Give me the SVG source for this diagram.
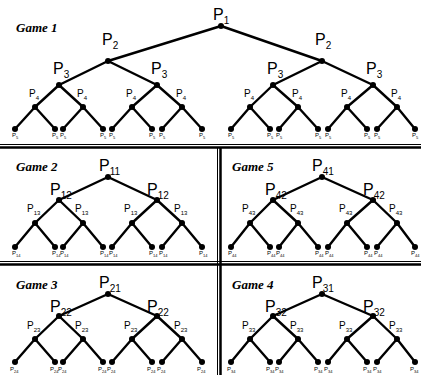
<svg xmlns="http://www.w3.org/2000/svg" width="421" height="375" viewBox="0 0 421 375">
<style>
.bg{fill:#fff}
.e{stroke:#000;stroke-width:2.4;fill:none;stroke-linecap:round;stroke-linejoin:round}
.div{stroke:#000;fill:none}
circle{fill:#000}
text{font-family:"Liberation Sans",Arial,sans-serif;fill:#000}
.L{font-size:16px}
.L .s{font-size:10px}
.M{font-size:10px}
.M .s{font-size:6px}
.S{font-size:6px}
.S .s{font-size:4px}
.g{font-family:"Liberation Serif","Times New Roman",serif;font-style:italic;font-weight:bold;font-size:13px}
</style>
<rect class="bg" x="0" y="0" width="421" height="375"/>
<g id="dividers">
<line class="div" x1="0" y1="144.5" x2="421" y2="144.5" stroke-width="1"/>
<line class="div" x1="0" y1="147.5" x2="421" y2="147.5" stroke-width="2.5"/>
<line class="div" x1="0" y1="261.5" x2="421" y2="261.5" stroke-width="1"/>
<line class="div" x1="0" y1="264.5" x2="421" y2="264.5" stroke-width="2.5"/>
<line class="div" x1="217.5" y1="148" x2="217.5" y2="375" stroke-width="1"/>
<line class="div" x1="220.5" y1="148" x2="220.5" y2="375" stroke-width="2.5"/>
</g>
<g id="titles">
<text class="g" x="16" y="32">Game 1</text>
<text class="g" x="16" y="171">Game 2</text>
<text class="g" x="232" y="171">Game 5</text>
<text class="g" x="16" y="289">Game 3</text>
<text class="g" x="232" y="289">Game 4</text>
</g>
<g id="connectors">
<path class="e" d="M108,61L221,26L322,61M59,85L108,61L157,85M273,85L322,61L373,85M35,107L59,85L83,107M132,107L157,85L182,107M250,107L273,85L298,107M347,107L373,85L397,107M15,129L35,107L55,129M63,129L83,107L103,129M112,129L132,107L152,129M162,129L182,107L202,129M231,129L250,107L270,129M279,129L298,107L318,129M328,129L347,107L367,129M377,129L397,107L415,129"/>
<path class="e" d="M59,200L108,177L157,200M35,223L59,200L83,223M132,223L157,200L182,223M15,247L35,223L55,247M63,247L83,223L103,247M112,247L132,223L152,247M162,247L182,223L202,247"/>
<path class="e" d="M273,200L322,177L373,200M250,223L273,200L298,223M347,223L373,200L397,223M231,247L250,223L270,247M279,247L298,223L318,247M328,247L347,223L367,247M377,247L397,223L415,247"/>
<path class="e" d="M59,316L108,294L157,316M35,339L59,316L83,339M132,339L157,316L182,339M15,362L35,339L55,362M63,362L83,339L103,362M112,362L132,339L152,362M162,362L182,339L202,362"/>
<path class="e" d="M273,316L322,294L373,316M250,339L273,316L298,339M347,339L373,316L397,339M231,362L250,339L270,362M279,362L298,339L318,362M328,362L347,339L367,362M377,362L397,339L415,362"/>
</g>
<!-- Game 1 -->
<g id="g1-root"><circle cx="221" cy="26" r="3"/><text class="L" x="213" y="20">P<tspan class="s" dy="4">1</tspan></text></g>
<g id="g1-a"><circle cx="108" cy="61" r="3"/><text class="L" x="102" y="45">P<tspan class="s" dy="4">2</tspan></text></g>
<g id="g1-b"><circle cx="322" cy="61" r="3"/><text class="L" x="315" y="45">P<tspan class="s" dy="4">2</tspan></text></g>
<g id="g1-aa"><circle cx="59" cy="85" r="3"/><text class="L" x="53" y="74">P<tspan class="s" dy="4">3</tspan></text></g>
<g id="g1-ab"><circle cx="157" cy="85" r="3"/><text class="L" x="151" y="74">P<tspan class="s" dy="4">3</tspan></text></g>
<g id="g1-ba"><circle cx="273" cy="85" r="3"/><text class="L" x="267" y="74">P<tspan class="s" dy="4">3</tspan></text></g>
<g id="g1-bb"><circle cx="373" cy="85" r="3"/><text class="L" x="366" y="74">P<tspan class="s" dy="4">3</tspan></text></g>
<g id="g1-c1"><circle cx="35" cy="107" r="3"/><text class="M" x="29" y="97">P<tspan class="s" dy="3">4</tspan></text></g>
<g id="g1-c2"><circle cx="83" cy="107" r="3"/><text class="M" x="77" y="97">P<tspan class="s" dy="3">4</tspan></text></g>
<g id="g1-c3"><circle cx="132" cy="107" r="3"/><text class="M" x="126" y="97">P<tspan class="s" dy="3">4</tspan></text></g>
<g id="g1-c4"><circle cx="182" cy="107" r="3"/><text class="M" x="176" y="97">P<tspan class="s" dy="3">4</tspan></text></g>
<g id="g1-c5"><circle cx="250" cy="107" r="3"/><text class="M" x="244" y="97">P<tspan class="s" dy="3">4</tspan></text></g>
<g id="g1-c6"><circle cx="298" cy="107" r="3"/><text class="M" x="292" y="97">P<tspan class="s" dy="3">4</tspan></text></g>
<g id="g1-c7"><circle cx="347" cy="107" r="3"/><text class="M" x="341" y="97">P<tspan class="s" dy="3">4</tspan></text></g>
<g id="g1-c8"><circle cx="397" cy="107" r="3"/><text class="M" x="391" y="97">P<tspan class="s" dy="3">4</tspan></text></g>
<g id="g1-l1"><circle cx="15" cy="129" r="3"/><text class="S" x="12" y="137">P<tspan class="s" dy="1.5">5</tspan></text></g>
<g id="g1-l2"><circle cx="55" cy="129" r="3"/><text class="S" x="52" y="137">P<tspan class="s" dy="1.5">5</tspan></text></g>
<g id="g1-l3"><circle cx="63" cy="129" r="3"/><text class="S" x="60" y="137">P<tspan class="s" dy="1.5">5</tspan></text></g>
<g id="g1-l4"><circle cx="103" cy="129" r="3"/><text class="S" x="100" y="137">P<tspan class="s" dy="1.5">5</tspan></text></g>
<g id="g1-l5"><circle cx="112" cy="129" r="3"/><text class="S" x="109" y="137">P<tspan class="s" dy="1.5">5</tspan></text></g>
<g id="g1-l6"><circle cx="152" cy="129" r="3"/><text class="S" x="149" y="137">P<tspan class="s" dy="1.5">5</tspan></text></g>
<g id="g1-l7"><circle cx="162" cy="129" r="3"/><text class="S" x="159" y="137">P<tspan class="s" dy="1.5">5</tspan></text></g>
<g id="g1-l8"><circle cx="202" cy="129" r="3"/><text class="S" x="199" y="137">P<tspan class="s" dy="1.5">5</tspan></text></g>
<g id="g1-l9"><circle cx="231" cy="129" r="3"/><text class="S" x="228" y="137">P<tspan class="s" dy="1.5">5</tspan></text></g>
<g id="g1-l10"><circle cx="270" cy="129" r="3"/><text class="S" x="267" y="137">P<tspan class="s" dy="1.5">5</tspan></text></g>
<g id="g1-l11"><circle cx="279" cy="129" r="3"/><text class="S" x="276" y="137">P<tspan class="s" dy="1.5">5</tspan></text></g>
<g id="g1-l12"><circle cx="318" cy="129" r="3"/><text class="S" x="315" y="137">P<tspan class="s" dy="1.5">5</tspan></text></g>
<g id="g1-l13"><circle cx="328" cy="129" r="3"/><text class="S" x="325" y="137">P<tspan class="s" dy="1.5">5</tspan></text></g>
<g id="g1-l14"><circle cx="367" cy="129" r="3"/><text class="S" x="364" y="137">P<tspan class="s" dy="1.5">5</tspan></text></g>
<g id="g1-l15"><circle cx="377" cy="129" r="3"/><text class="S" x="374" y="137">P<tspan class="s" dy="1.5">5</tspan></text></g>
<g id="g1-l16"><circle cx="415" cy="129" r="3"/><text class="S" x="412" y="137">P<tspan class="s" dy="1.5">5</tspan></text></g>
<!-- Game 2 -->
<g id="g2-root"><circle cx="108" cy="177" r="3"/><text class="L" x="99" y="171">P<tspan class="s" dy="4">11</tspan></text></g>
<g id="g2-a"><circle cx="59" cy="200" r="3"/><text class="L" x="50" y="195">P<tspan class="s" dy="4">12</tspan></text></g>
<g id="g2-b"><circle cx="157" cy="200" r="3"/><text class="L" x="147" y="195">P<tspan class="s" dy="4">12</tspan></text></g>
<g id="g2-c1"><circle cx="35" cy="223" r="3"/><text class="M" x="27" y="212">P<tspan class="s" dy="3">13</tspan></text></g>
<g id="g2-c2"><circle cx="83" cy="223" r="3"/><text class="M" x="75" y="212">P<tspan class="s" dy="3">13</tspan></text></g>
<g id="g2-c3"><circle cx="132" cy="223" r="3"/><text class="M" x="124" y="212">P<tspan class="s" dy="3">13</tspan></text></g>
<g id="g2-c4"><circle cx="182" cy="223" r="3"/><text class="M" x="174" y="212">P<tspan class="s" dy="3">13</tspan></text></g>
<g id="g2-l1"><circle cx="15" cy="247" r="3"/><text class="S" x="12" y="255">P<tspan class="s" dy="1.5">14</tspan></text></g>
<g id="g2-l2"><circle cx="55" cy="247" r="3"/><text class="S" x="52" y="255">P<tspan class="s" dy="1.5">14</tspan></text></g>
<g id="g2-l3"><circle cx="63" cy="247" r="3"/><text class="S" x="60" y="255">P<tspan class="s" dy="1.5">14</tspan></text></g>
<g id="g2-l4"><circle cx="103" cy="247" r="3"/><text class="S" x="100" y="255">P<tspan class="s" dy="1.5">14</tspan></text></g>
<g id="g2-l5"><circle cx="112" cy="247" r="3"/><text class="S" x="109" y="255">P<tspan class="s" dy="1.5">14</tspan></text></g>
<g id="g2-l6"><circle cx="152" cy="247" r="3"/><text class="S" x="149" y="255">P<tspan class="s" dy="1.5">14</tspan></text></g>
<g id="g2-l7"><circle cx="162" cy="247" r="3"/><text class="S" x="159" y="255">P<tspan class="s" dy="1.5">14</tspan></text></g>
<g id="g2-l8"><circle cx="202" cy="247" r="3"/><text class="S" x="199" y="255">P<tspan class="s" dy="1.5">14</tspan></text></g>
<!-- Game 5 -->
<g id="g5-root"><circle cx="322" cy="177" r="3"/><text class="L" x="312" y="171">P<tspan class="s" dy="4">41</tspan></text></g>
<g id="g5-a"><circle cx="273" cy="200" r="3"/><text class="L" x="265" y="195">P<tspan class="s" dy="4">42</tspan></text></g>
<g id="g5-b"><circle cx="373" cy="200" r="3"/><text class="L" x="363" y="195">P<tspan class="s" dy="4">42</tspan></text></g>
<g id="g5-c1"><circle cx="250" cy="223" r="3"/><text class="M" x="242" y="212">P<tspan class="s" dy="3">43</tspan></text></g>
<g id="g5-c2"><circle cx="298" cy="223" r="3"/><text class="M" x="290" y="212">P<tspan class="s" dy="3">43</tspan></text></g>
<g id="g5-c3"><circle cx="347" cy="223" r="3"/><text class="M" x="339" y="212">P<tspan class="s" dy="3">43</tspan></text></g>
<g id="g5-c4"><circle cx="397" cy="223" r="3"/><text class="M" x="389" y="212">P<tspan class="s" dy="3">43</tspan></text></g>
<g id="g5-l1"><circle cx="231" cy="247" r="3"/><text class="S" x="228" y="255">P<tspan class="s" dy="1.5">44</tspan></text></g>
<g id="g5-l2"><circle cx="270" cy="247" r="3"/><text class="S" x="267" y="255">P<tspan class="s" dy="1.5">44</tspan></text></g>
<g id="g5-l3"><circle cx="279" cy="247" r="3"/><text class="S" x="276" y="255">P<tspan class="s" dy="1.5">44</tspan></text></g>
<g id="g5-l4"><circle cx="318" cy="247" r="3"/><text class="S" x="315" y="255">P<tspan class="s" dy="1.5">44</tspan></text></g>
<g id="g5-l5"><circle cx="328" cy="247" r="3"/><text class="S" x="325" y="255">P<tspan class="s" dy="1.5">44</tspan></text></g>
<g id="g5-l6"><circle cx="367" cy="247" r="3"/><text class="S" x="364" y="255">P<tspan class="s" dy="1.5">44</tspan></text></g>
<g id="g5-l7"><circle cx="377" cy="247" r="3"/><text class="S" x="374" y="255">P<tspan class="s" dy="1.5">44</tspan></text></g>
<g id="g5-l8"><circle cx="415" cy="247" r="3"/><text class="S" x="411" y="255">P<tspan class="s" dy="1.5">44</tspan></text></g>
<!-- Game 3 -->
<g id="g3-root"><circle cx="108" cy="294" r="3"/><text class="L" x="99" y="288">P<tspan class="s" dy="4">21</tspan></text></g>
<g id="g3-a"><circle cx="59" cy="316" r="3"/><text class="L" x="50" y="312">P<tspan class="s" dy="4">22</tspan></text></g>
<g id="g3-b"><circle cx="157" cy="316" r="3"/><text class="L" x="147" y="312">P<tspan class="s" dy="4">22</tspan></text></g>
<g id="g3-c1"><circle cx="35" cy="339" r="3"/><text class="M" x="27" y="329">P<tspan class="s" dy="3">23</tspan></text></g>
<g id="g3-c2"><circle cx="83" cy="339" r="3"/><text class="M" x="75" y="329">P<tspan class="s" dy="3">23</tspan></text></g>
<g id="g3-c3"><circle cx="132" cy="339" r="3"/><text class="M" x="124" y="329">P<tspan class="s" dy="3">23</tspan></text></g>
<g id="g3-c4"><circle cx="182" cy="339" r="3"/><text class="M" x="174" y="329">P<tspan class="s" dy="3">23</tspan></text></g>
<g id="g3-l1"><circle cx="15" cy="362" r="3"/><text class="S" x="10" y="371">P<tspan class="s" dy="1.5">24</tspan></text></g>
<g id="g3-l2"><circle cx="55" cy="362" r="3"/><text class="S" x="50" y="371">P<tspan class="s" dy="1.5">24</tspan></text></g>
<g id="g3-l3"><circle cx="63" cy="362" r="3"/><text class="S" x="58" y="371">P<tspan class="s" dy="1.5">24</tspan></text></g>
<g id="g3-l4"><circle cx="103" cy="362" r="3"/><text class="S" x="98" y="371">P<tspan class="s" dy="1.5">24</tspan></text></g>
<g id="g3-l5"><circle cx="112" cy="362" r="3"/><text class="S" x="107" y="371">P<tspan class="s" dy="1.5">24</tspan></text></g>
<g id="g3-l6"><circle cx="152" cy="362" r="3"/><text class="S" x="147" y="371">P<tspan class="s" dy="1.5">24</tspan></text></g>
<g id="g3-l7"><circle cx="162" cy="362" r="3"/><text class="S" x="157" y="371">P<tspan class="s" dy="1.5">24</tspan></text></g>
<g id="g3-l8"><circle cx="202" cy="362" r="3"/><text class="S" x="197" y="371">P<tspan class="s" dy="1.5">24</tspan></text></g>
<!-- Game 4 -->
<g id="g4-root"><circle cx="322" cy="294" r="3"/><text class="L" x="312" y="288">P<tspan class="s" dy="4">31</tspan></text></g>
<g id="g4-a"><circle cx="273" cy="316" r="3"/><text class="L" x="265" y="312">P<tspan class="s" dy="4">32</tspan></text></g>
<g id="g4-b"><circle cx="373" cy="316" r="3"/><text class="L" x="363" y="312">P<tspan class="s" dy="4">32</tspan></text></g>
<g id="g4-c1"><circle cx="250" cy="339" r="3"/><text class="M" x="242" y="329">P<tspan class="s" dy="3">33</tspan></text></g>
<g id="g4-c2"><circle cx="298" cy="339" r="3"/><text class="M" x="290" y="329">P<tspan class="s" dy="3">33</tspan></text></g>
<g id="g4-c3"><circle cx="347" cy="339" r="3"/><text class="M" x="339" y="329">P<tspan class="s" dy="3">33</tspan></text></g>
<g id="g4-c4"><circle cx="397" cy="339" r="3"/><text class="M" x="389" y="329">P<tspan class="s" dy="3">33</tspan></text></g>
<g id="g4-l1"><circle cx="231" cy="362" r="3"/><text class="S" x="227" y="371">P<tspan class="s" dy="1.5">34</tspan></text></g>
<g id="g4-l2"><circle cx="270" cy="362" r="3"/><text class="S" x="266" y="371">P<tspan class="s" dy="1.5">34</tspan></text></g>
<g id="g4-l3"><circle cx="279" cy="362" r="3"/><text class="S" x="275" y="371">P<tspan class="s" dy="1.5">34</tspan></text></g>
<g id="g4-l4"><circle cx="318" cy="362" r="3"/><text class="S" x="314" y="371">P<tspan class="s" dy="1.5">34</tspan></text></g>
<g id="g4-l5"><circle cx="328" cy="362" r="3"/><text class="S" x="324" y="371">P<tspan class="s" dy="1.5">34</tspan></text></g>
<g id="g4-l6"><circle cx="367" cy="362" r="3"/><text class="S" x="363" y="371">P<tspan class="s" dy="1.5">34</tspan></text></g>
<g id="g4-l7"><circle cx="377" cy="362" r="3"/><text class="S" x="373" y="371">P<tspan class="s" dy="1.5">34</tspan></text></g>
<g id="g4-l8"><circle cx="415" cy="362" r="3"/><text class="S" x="410" y="371">P<tspan class="s" dy="1.5">34</tspan></text></g>
</svg>
